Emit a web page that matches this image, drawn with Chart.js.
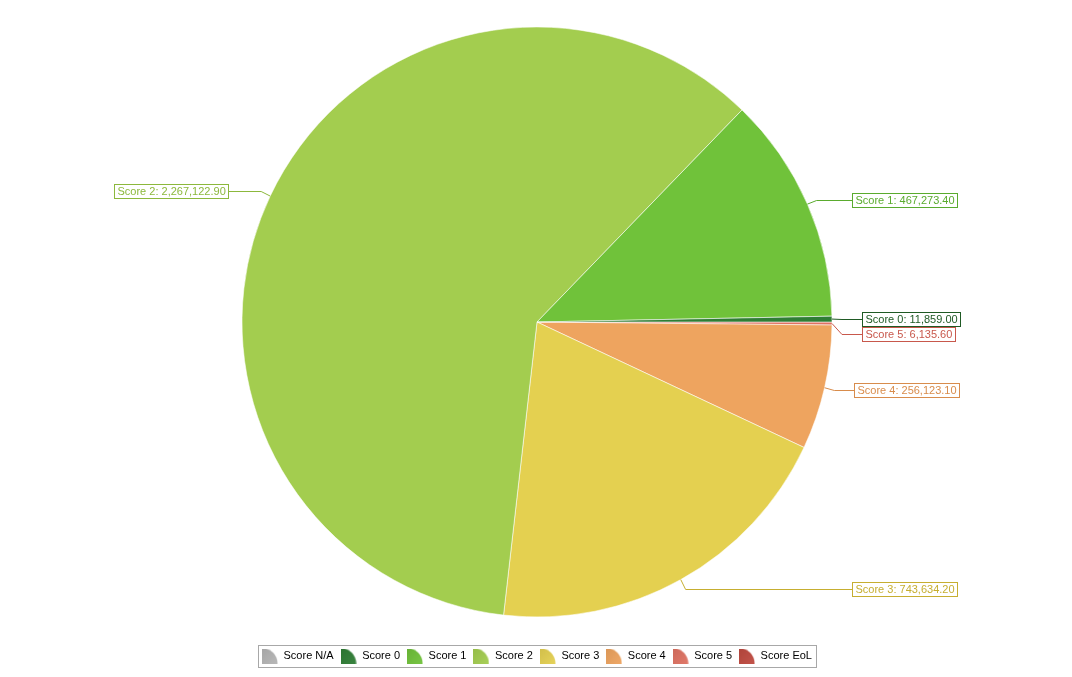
<!DOCTYPE html>
<html>
<head>
<meta charset="utf-8">
<script src="https://cdn.jsdelivr.net/npm/chart.js@4.4.1/dist/chart.umd.min.js"></script>
<style>
  html, body { margin: 0; padding: 0; background: #fff; }
  #wrap { position: relative; width: 1072px; height: 677px; }
</style>
</head>
<body>
<div id="wrap"><canvas id="chart"></canvas></div>
<script>
// Datos del gráfico
const categories = ['Score N/A', 'Score 0', 'Score 1', 'Score 2', 'Score 3', 'Score 4', 'Score 5', 'Score EoL'];
const values = [0, 11859.00, 467273.40, 2267122.90, 743634.20, 256123.10, 6135.60, 0];
const sliceColors = ['#b4b4b4', '#2f7d35', '#70c23a', '#a3cd4f', '#e4d050', '#eea45f', '#df7262', '#bf4a40'];
const labelColors = ['#909090', '#1f5a24', '#5aab2e', '#8cb83c', '#c6ae30', '#d88c4c', '#c8584c', '#a83a32'];

const FONT = '"Liberation Sans", Arial, sans-serif';

// las porciones van en sentido antihorario desde las 3 en punto -> invertimos el orden
const order = categories.map((_, i) => i).reverse();

const fmt = v => v.toLocaleString('en-US', { minimumFractionDigits: 2, maximumFractionDigits: 2 });

function shade(hex, amt) {
    const n = parseInt(hex.slice(1), 16);
    let r = n >> 16, g = (n >> 8) & 255, b = n & 255;
    const t = amt < 0 ? 0 : 255, p = Math.abs(amt);
    r = Math.round(r + (t - r) * p); g = Math.round(g + (t - g) * p); b = Math.round(b + (t - b) * p);
    return `rgb(${r},${g},${b})`;
}

// icono de leyenda: cuarto de círculo
function legendIcon(color) {
    const c = document.createElement('canvas');
    c.width = 16; c.height = 15;
    const g = c.getContext('2d');
    const grad = g.createLinearGradient(0, 0, 16, 15);
    grad.addColorStop(0, shade(color, -0.08));
    grad.addColorStop(1, shade(color, 0.06));
    g.fillStyle = grad;
    g.beginPath();
    g.moveTo(0, 15);
    g.arc(0, 15, 15.5, -Math.PI / 2, 0);
    g.closePath();
    g.fill();
    return c;
}

// relleno con degradado suave de izquierda a derecha
const sliceFill = (ctx) => {
    const base = sliceColors[order[ctx.dataIndex]];
    const chart = ctx.chart;
    if (!chart.chartArea) return base;
    const meta = chart.getDatasetMeta(0);
    const arc = meta.data[ctx.dataIndex];
    if (!arc || !arc.outerRadius) return base;
    const grad = chart.ctx.createLinearGradient(arc.x - arc.outerRadius, 0, arc.x + arc.outerRadius, 0);
    grad.addColorStop(0, shade(base, -0.05));
    grad.addColorStop(1, shade(base, 0.06));
    return grad;
};

// etiquetas con recuadro y línea guía
const calloutLabels = {
    id: 'calloutLabels',
    afterDatasetsDraw(chart) {
        const meta = chart.getDatasetMeta(0);
        const ctx = chart.ctx;
        ctx.save();
        ctx.font = '11px ' + FONT;
        const items = [];
        meta.data.forEach((arc, k) => {
            const i = order[k];
            if (!values[i]) return;
            const p = arc.getProps(['x', 'y', 'startAngle', 'endAngle', 'outerRadius'], true);
            const mid = (p.startAngle + p.endAngle) / 2;
            const cos = Math.cos(mid), sin = Math.sin(mid);
            items.push({
                i, right: cos >= 0,
                ax: p.x + p.outerRadius * cos, ay: p.y + p.outerRadius * sin,
                bx: p.x + (p.outerRadius + 10) * cos,
                ly: p.y + (p.outerRadius + 11) * sin,
                cx: p.x, r: p.outerRadius,
                text: categories[i] + ': ' + fmt(values[i])
            });
        });
        [true, false].forEach(side => {
            const list = items.filter(o => o.right === side).sort((a, b) => a.ly - b.ly);
            for (let j = 1; j < list.length; j++) {
                if (list[j].ly - list[j - 1].ly < 15) list[j].ly = list[j - 1].ly + 15;
            }
        });
        items.forEach(o => {
            const w = Math.round(ctx.measureText(o.text).width + 6), h = 14;
            const x0 = Math.round(o.right ? Math.max(o.cx + o.r + 20, o.bx + 20)
                                          : Math.min(o.cx - o.r - 14, o.bx - 20) - w);
            const edgeX = o.right ? x0 : x0 + w;
            const ly = Math.round(o.ly) + 0.5;
            ctx.strokeStyle = labelColors[o.i];
            ctx.lineWidth = 1;
            ctx.beginPath();
            ctx.moveTo(o.ax, o.ay);
            ctx.lineTo(o.bx, ly);
            ctx.lineTo(edgeX, ly);
            ctx.stroke();
            const top = Math.round(o.ly - h / 2) + 0.5;
            ctx.fillStyle = '#fff';
            ctx.fillRect(x0 + 0.5, top, w, h);
            ctx.strokeRect(x0 + 0.5, top, w, h);
            ctx.fillStyle = labelColors[o.i];
            ctx.textBaseline = 'middle';
            ctx.fillText(o.text, x0 + 3.5, top + h / 2 + 0.5);
        });
        ctx.restore();
    }
};

// marco gris alrededor de la leyenda
const legendFrame = {
    id: 'legendFrame',
    afterDraw(chart) {
        const boxes = chart.legend && chart.legend.legendHitBoxes;
        if (!boxes || !boxes.length) return;
        const left = Math.min(...boxes.map(b => b.left)) - 4;
        const right = Math.max(...boxes.map(b => b.left + b.width)) + 4;
        const cy = boxes[0].top + boxes[0].height / 2;
        const ctx = chart.ctx;
        ctx.save();
        ctx.strokeStyle = '#a8a8a8';
        ctx.lineWidth = 1;
        ctx.strokeRect(Math.round(left) + 0.5, Math.round(cy - 11) + 0.5, Math.round(right - left), 22);
        ctx.restore();
    }
};

new Chart(document.getElementById('chart'), {
    type: 'pie',
    data: {
        labels: order.map(i => categories[i]),
        datasets: [{
            data: order.map(i => values[i]),
            backgroundColor: sliceFill,
            borderColor: 'rgba(255,255,255,0.55)',
            borderWidth: 1,
            radius: 295
        }]
    },
    options: {
        responsive: true,
        maintainAspectRatio: false,
        animation: false,
        rotation: 90,
        layout: { padding: { top: 0.5, bottom: 5.5, left: 2, right: 0 } },
        plugins: {
            tooltip: { enabled: false },
            legend: {
                position: 'bottom',
                onClick: null,
                labels: {
                    usePointStyle: true,
                    pointStyleWidth: 16,
                    padding: 7,
                    color: '#000',
                    font: { size: 11, family: FONT },
                    generateLabels: () => categories.map((c, i) => ({
                        text: c,
                        fillStyle: sliceColors[i],
                        strokeStyle: sliceColors[i],
                        lineWidth: 0,
                        pointStyle: legendIcon(sliceColors[i]),
                        hidden: false,
                        index: i
                    }))
                }
            }
        }
    },
    plugins: [calloutLabels, legendFrame]
});
</script>
</body>
</html>
